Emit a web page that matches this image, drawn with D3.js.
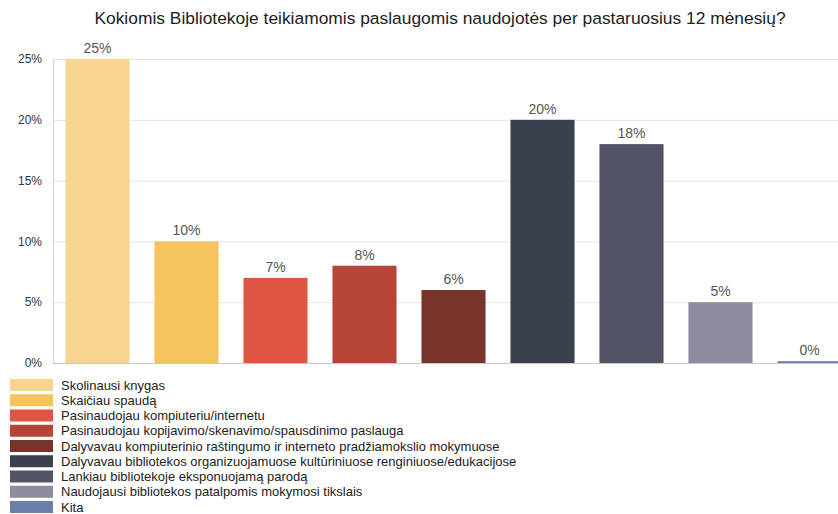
<!DOCTYPE html>
<html>
<head>
<meta charset="utf-8">
<script src="https://cdn.jsdelivr.net/npm/d3@7"></script>
<style>
  body { margin: 0; background: #fff; font-family: Arial, "Liberation Sans", sans-serif; }
  .grid line { stroke: #e3e3e3; }
  .grid path { stroke: none; }
</style>
</head>
<body>
<script>
/*
    CHART DATA
*/
var title = "Kokiomis Bibliotekoje teikiamomis paslaugomis naudojotės per pastaruosius 12 mėnesių?";

var categories = [
  "Skolinausi knygas",
  "Skaičiau spaudą",
  "Pasinaudojau kompiuteriu/internetu",
  "Pasinaudojau kopijavimo/skenavimo/spausdinimo paslauga",
  "Dalyvavau kompiuterinio raštingumo ir interneto pradžiamokslio mokymuose",
  "Dalyvavau bibliotekos organizuojamuose kultūriniuose renginiuose/edukacijose",
  "Lankiau bibliotekoje eksponuojamą parodą",
  "Naudojausi bibliotekos patalpomis mokymosi tikslais",
  "Kita"
];
var values = [25, 10, 7, 8, 6, 20, 18, 5, 0.15];
var valueLabels = ["25%", "10%", "7%", "8%", "6%", "20%", "18%", "5%", "0%"];
var colors = ["#f8d58f", "#f6c35f", "#de5642", "#b54536", "#78332a", "#3b404d", "#525466", "#8e8b9e", "#6b7fab"];
var yTicks = [0, 5, 10, 15, 20, 25];

/*
    LAYOUT
*/
var width = 838, height = 514;
var margin = {top: 59, left: 53, bottom: 151};
var plotBottom = height - margin.bottom; // 363
var step = 89;

var svg = d3.select("body").append("svg")
    .attr("width", width)
    .attr("height", height);

var x = d3.scaleBand()
    .domain(categories)
    .range([margin.left, margin.left + step * categories.length])
    .paddingInner(0.28)
    .paddingOuter(0.14);

var y = d3.scaleLinear()
    .domain([0, 25])
    .range([plotBottom, margin.top]);

// title
svg.append("text")
    .attr("x", 440)
    .attr("y", 24)
    .attr("text-anchor", "middle")
    .style("font-size", "17.4px")
    .style("fill", "#222")
    .text(title);

// gridlines
svg.append("g")
    .attr("class", "grid")
    .attr("transform", "translate(" + margin.left + ",0)")
    .call(d3.axisRight(y).tickValues(yTicks).tickSize(width - margin.left).tickFormat(""));

// y axis line
svg.append("line")
    .attr("x1", margin.left + 0.5).attr("x2", margin.left + 0.5)
    .attr("y1", margin.top).attr("y2", plotBottom)
    .style("stroke", "#d6d6d6");

// y labels
svg.append("g")
    .selectAll("text")
    .data(yTicks)
    .enter().append("text")
    .attr("x", 42)
    .attr("y", function(d) { return y(d); })
    .attr("dy", "0.35em")
    .attr("text-anchor", "end")
    .style("font-size", "12px")
    .style("fill", "#333")
    .text(function(d) { return d + "%"; });

// bars
svg.append("g")
    .selectAll("rect")
    .data(values)
    .enter().append("rect")
    .attr("x", function(d, i) { return x(categories[i]); })
    .attr("y", function(d) { return y(d); })
    .attr("width", x.bandwidth())
    .attr("height", function(d) { return plotBottom - y(d); })
    .style("fill", function(d, i) { return colors[i]; });

// x axis baseline
svg.append("line")
    .attr("x1", margin.left).attr("x2", width)
    .attr("y1", plotBottom + 0.5).attr("y2", plotBottom + 0.5)
    .style("stroke", "#c8c8c8");

// value labels
svg.append("g")
    .selectAll("text")
    .data(values)
    .enter().append("text")
    .attr("x", function(d, i) { return x(categories[i]) + x.bandwidth() / 2; })
    .attr("y", function(d) { return y(d) - 6; })
    .attr("text-anchor", "middle")
    .style("font-size", "14px")
    .style("fill", "#555")
    .text(function(d, i) { return valueLabels[i]; });

// legend
var legend = svg.append("g")
    .selectAll("g")
    .data(categories)
    .enter().append("g")
    .attr("transform", function(d, i) { return "translate(10," + (379 + i * 15.25) + ")"; });

legend.append("rect")
    .attr("width", 43)
    .attr("height", 12)
    .style("fill", function(d, i) { return colors[i]; });

legend.append("text")
    .attr("x", 51)
    .attr("y", 6)
    .attr("dy", "0.35em")
    .style("font-size", "13px")
    .style("fill", "#222")
    .text(function(d) { return d; });
</script>
</body>
</html>
